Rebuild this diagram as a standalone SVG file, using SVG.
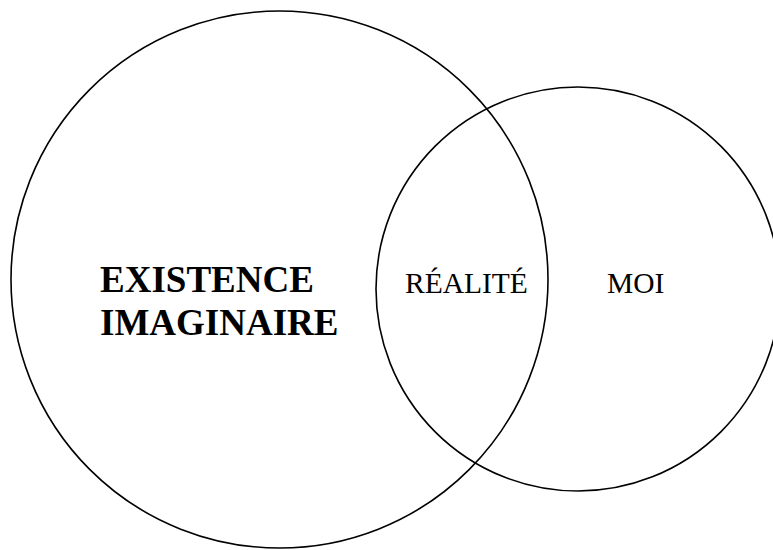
<svg xmlns="http://www.w3.org/2000/svg" width="773" height="550" viewBox="0 0 773 550">
<style>
.c{fill:none;stroke:#000;stroke-width:1.6}
.b{font-family:"Liberation Serif","Times New Roman",serif;font-weight:bold;font-size:37px;fill:#000}
.r{font-family:"Liberation Serif","Times New Roman",serif;font-size:29.5px;fill:#000}
</style>
<rect width="773" height="550" fill="#fff"/>
<g id="existence">
<circle class="c" cx="279.5" cy="279.5" r="268.5"/>
<text class="b" x="100" y="292">EXISTENCE</text>
<text class="b" x="100" y="335">IMAGINAIRE</text>
</g>
<g id="moi">
<circle class="c" cx="578" cy="289" r="202"/>
<text class="r" x="607" y="293">MOI</text>
</g>
<g id="realite">
<text class="r" x="405" y="293">RÉALITÉ</text>
</g>
<g id="connectors"/>
</svg>
